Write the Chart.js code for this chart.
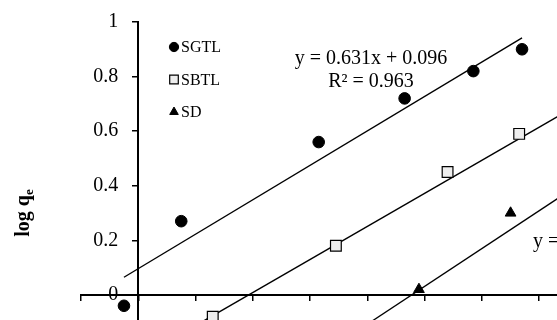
<!DOCTYPE html>
<html>
<head>
<meta charset="utf-8">
<script src="https://cdn.jsdelivr.net/npm/chart.js@4.4.0/dist/chart.umd.min.js"></script>
<style>
  html, body { margin: 0; padding: 0; background: #fff; overflow: hidden; }
  #wrap { width: 557px; height: 320px; overflow: hidden; position: relative; }
  canvas { position: absolute; left: 0; top: 0; }
</style>
</head>
<body>
<div id="wrap"><canvas id="chart" width="628" height="440"></canvas></div>
<script>
// log Ce (x) against log qe (y)
const seriesNames = ['SGTL', 'SBTL', 'SD'];
const sgtlX = [-0.05, 0.15, 0.63, 0.93, 1.17, 1.34];
const sgtlY = [-0.04, 0.27, 0.56, 0.72, 0.82, 0.90];
const sbtlX = [0.26, 0.69, 1.08, 1.33];
const sbtlY = [-0.08, 0.18, 0.45, 0.59];
const sdX = [0.98, 1.30];
const sdY = [0.02, 0.30];

// linear trend lines: slope, intercept and the x range they cover
const fitSlope = [0.631, 0.606, 0.693];
const fitIntercept = [0.096, -0.234, -0.662];
const fitFrom = [-0.05, 0.1, 0.6];
const fitTo = [1.34, 1.6, 1.6];
const fitText = [['y = 0.631x + 0.096', 'R² = 0.963'], null, ['y = 0.693x - 0.662', 'R² = 0.951']];

const xTicks = [-0.2, 0, 0.2, 0.4, 0.6, 0.8, 1, 1.2, 1.4, 1.6];
const yTicks = [-0.4, -0.2, 0, 0.2, 0.4, 0.6, 0.8, 1];

const serif = '"Liberation Serif", "Times New Roman", serif';
const toPts = (xs, ys) => xs.map((x, i) => ({ x: x, y: ys[i] }));
const fitPts = i => [fitFrom[i], fitTo[i]].map(x => ({ x: x, y: fitSlope[i] * x + fitIntercept[i] }));
const fmt = v => String(Math.round(v * 10) / 10);

const markers = [
  { pointStyle: 'circle', radius: 5.8, backgroundColor: '#000', borderColor: '#000', borderWidth: 1 },
  { pointStyle: 'rect', radius: 7.6, backgroundColor: '#eeeeee', borderColor: '#000', borderWidth: 1.2 },
  { pointStyle: 'triangle', radius: 6.2, backgroundColor: '#000', borderColor: '#000', borderWidth: 1 }
];
const pointSets = [toPts(sgtlX, sgtlY), toPts(sbtlX, sbtlY), toPts(sdX, sdY)];

const datasets = [];
pointSets.forEach((pts, i) => {
  const m = markers[i];
  datasets.push({
    label: seriesNames[i],
    data: pts,
    pointStyle: m.pointStyle,
    pointRadius: m.radius,
    pointBackgroundColor: m.backgroundColor,
    pointBorderColor: m.borderColor,
    pointBorderWidth: m.borderWidth,
    order: 0
  });
});
fitSlope.forEach((s, i) => {
  datasets.push({
    label: seriesNames[i] + ' fit',
    data: fitPts(i),
    showLine: true,
    pointRadius: 0,
    borderColor: '#000',
    borderWidth: 1.4,
    order: 1
  });
});

// legend in the upper left of the plot
const insideLegend = {
  id: 'insideLegend',
  afterDraw(chart) {
    const ctx = chart.ctx;
    ctx.save();
    ctx.font = '16px ' + serif;
    ctx.textBaseline = 'middle';
    seriesNames.forEach((name, i) => {
      const m = markers[i];
      const y = 47 + i * 32.5;
      ctx.fillStyle = m.backgroundColor;
      ctx.strokeStyle = m.borderColor;
      ctx.lineWidth = m.borderWidth;
      Chart.helpers.drawPoint(ctx, { pointStyle: m.pointStyle, radius: m.radius * 0.8, borderWidth: m.borderWidth, rotation: 0 }, 174, y);
      ctx.fillStyle = '#000';
      ctx.fillText(name, 181, y + 1);
    });
    ctx.restore();
  }
};

// trend line equations and the y axis title
const labels = {
  id: 'labels',
  afterDraw(chart) {
    const ctx = chart.ctx;
    ctx.save();
    ctx.fillStyle = '#000';
    ctx.textBaseline = 'middle';
    ctx.font = '20px ' + serif;
    // SGTL, centred above the top line
    ctx.textAlign = 'center';
    ctx.fillText(fitText[0][0], 371, 59);
    ctx.fillText(fitText[0][1], 371, 82);
    // SD, runs off the right edge
    const w = ctx.measureText(fitText[2][0]).width;
    ctx.fillText(fitText[2][0], 533 + w / 2, 242);
    ctx.fillText(fitText[2][1], 533 + w / 2, 265);

    ctx.translate(24, 213);
    ctx.rotate(-Math.PI / 2);
    ctx.textAlign = 'left';
    ctx.font = 'bold 20px ' + serif;
    const main = 'log q';
    const mw = ctx.measureText(main).width;
    ctx.font = 'bold 13px ' + serif;
    const sw = ctx.measureText('e').width;
    ctx.font = 'bold 20px ' + serif;
    ctx.fillText(main, -(mw + sw) / 2, 0);
    ctx.font = 'bold 13px ' + serif;
    ctx.fillText('e', -(mw + sw) / 2 + mw, 6);
    ctx.restore();
  }
};

new Chart(document.getElementById('chart'), {
  type: 'scatter',
  data: { datasets: datasets },
  options: {
    responsive: false,
    animation: false,
    devicePixelRatio: 1,
    layout: { padding: { left: 81, top: 22, right: 0, bottom: 36 } },
    plugins: { legend: { display: false }, tooltip: { enabled: false } },
    scales: {
      x: {
        type: 'linear',
        position: { y: 0 },
        min: -0.2,
        max: 1.6,
        afterBuildTicks: s => { s.ticks = xTicks.map(v => ({ value: v })); },
        ticks: { callback: fmt, color: '#000', padding: 19, font: { family: serif, size: 20 }, maxRotation: 0 },
        grid: { drawOnChartArea: false, drawTicks: true, tickLength: 5, color: '#000', lineWidth: 1.5 },
        border: { color: '#000', width: 2 }
      },
      y: {
        type: 'linear',
        position: { x: 0 },
        min: -0.4,
        max: 1,
        afterBuildTicks: s => { s.ticks = yTicks.map(v => ({ value: v })); },
        // a positioned y axis puts its labels on the axis line, so pad them with trailing spaces
        ticks: { callback: v => fmt(v) + '\u00a0\u00a0\u00a0\u00a0', color: '#000', font: { family: serif, size: 20 } },
        grid: { drawOnChartArea: false, drawTicks: true, tickLength: 5, color: '#000', lineWidth: 1.5 },
        border: { color: '#000', width: 2 }
      }
    }
  },
  plugins: [insideLegend, labels]
});
</script>
</body>
</html>
